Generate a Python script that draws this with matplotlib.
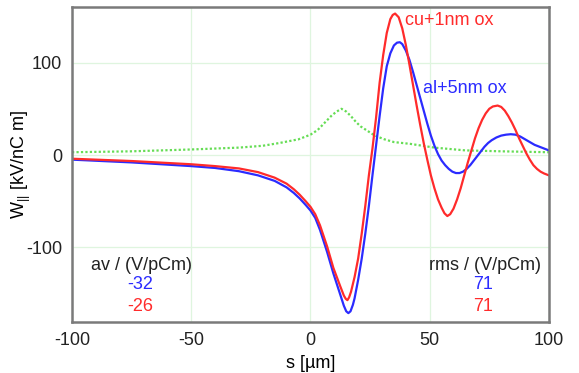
import numpy as np
import matplotlib.pyplot as plt

plt.rcParams['font.family'] = ['Liberation Sans', 'DejaVu Sans']
plt.rcParams['mathtext.fontset'] = 'custom'
plt.rcParams['mathtext.rm'] = 'Liberation Sans'
plt.rcParams['axes.unicode_minus'] = False

# wake of cu + 1nm oxide (red)
s_cu = [-100, -75, -50, -40, -30, -22, -15, -10, -7, -4.5, -2, 0, 2, 4, 7, 9.6, 12.5, 14, 14.8,
        15.5, 16.2, 17, 18.5, 20, 21.5, 23, 24.5, 26, 27.5, 29, 30.5, 32, 33.5, 34.5, 35.5, 37,
        38.5, 40, 41.5, 43, 44.5, 46, 47.5, 49, 50.5, 52, 53.5, 55, 56.2, 57.4, 58.6, 60, 61.5, 63,
        64.5, 66, 67.5, 69, 70.5, 72, 73.5, 75, 76.5, 78.5, 80, 81.5, 83, 84.5, 86, 87.5, 89, 90.5,
        92, 93.5, 95, 96.5, 98, 100]
w_cu = [-4, -6.5, -10, -12, -14.5, -18.5, -24.5, -31, -37, -43, -50, -56, -64, -76, -99, -122, -142,
        -152, -155.5, -157, -154, -148, -132, -112, -85, -55, -22, 7, 40, 78, 108, 132, 147, 151.5,
        153, 149, 137, 119, 98, 76, 54, 33, 13, -5, -22, -36, -48, -57, -63, -66, -64, -58, -48,
        -36, -22, -8, 5, 18, 29, 38, 45, 50, 52.5, 53.5, 52, 48, 42, 35, 27, 18, 10, 2,
        -5, -11, -15, -18, -20, -22]

# wake of al + 5nm oxide (blue)
s_al = [-100, -75, -50, -40, -30, -22, -15, -10, -7, -4.5, -2, 0, 2, 4, 7, 9.6, 12.5, 14, 15,
        15.9, 16.8, 17.8, 18.5, 20, 21.5, 23, 24.5, 26, 27.5, 29, 30.5, 32, 33.5, 35, 36.3, 37.5,
        38.5, 40, 41.5, 43, 44.5, 46, 47.5, 49, 50.5, 52, 53.5, 55, 56.5, 58, 59.5, 61, 62.5, 64,
        65.5, 67, 68.5, 70, 71.5, 73, 74.5, 76, 78, 80, 82, 84, 86, 88, 90, 92, 94, 96, 98, 100]
w_al = [-5, -8, -12, -14, -17.5, -22, -28, -35, -41, -47, -54, -60, -68, -81, -105, -128, -151,
        -163, -169, -171, -169, -162, -155, -135, -112, -85, -55, -22, 10, 42, 72, 96, 110, 118.5,
        121.5, 122, 120, 113, 103, 90, 76, 62, 48, 34, 21, 10, 1, -6, -11, -15, -18, -19.5, -19.5,
        -18, -15, -11, -6, -1, 4, 9, 13, 16, 19, 21, 22, 22.5, 22, 20, 17, 14, 11, 9, 7, 5]

# bunch profile (green, dotted)
s_bunch = [-100, -75, -50, -30, -20, -13, -5, 0, 3, 6, 9, 11, 13, 15, 17, 19, 21, 24, 27, 31, 35,
           42, 52, 65, 80, 100]
w_bunch = [3, 4, 6, 8, 10, 13, 17, 22, 27, 35, 43, 47, 50, 47, 42, 36, 31, 26, 21, 17, 14, 12, 8,
           5, 4, 3]

av_vals = ['-32', '-26']
rms_vals = ['71', '71']
colors = ['#2b2bff', '#ff2b2b']
fs = 13

fig = plt.figure(figsize=(5.79, 3.73), dpi=100)
ax = fig.add_axes([0.1244, 0.137, 0.8236, 0.844])

ax.plot(s_bunch, w_bunch, color='#66dd55', lw=1.6, ls=(0, (1, 1)))
ax.plot(s_al, w_al, color=colors[0], lw=1.6)
ax.plot(s_cu, w_cu, color=colors[1], lw=1.6)

ax.set_xlim(-100, 100)
ax.set_ylim(-180.5, 160)
ax.set_xticks([-100, -50, 0, 50, 100])
ax.set_yticks([-100, 0, 100])
ax.grid(True, color='#dff5df', lw=0.9)
ax.tick_params(length=0, labelsize=fs, pad=7, colors='#222222')
for sp in ax.spines.values():
    sp.set_color('#7a7a7a')
    sp.set_linewidth(1.8)

ax.set_xlabel('s [µm]', fontsize=fs)
ax.set_ylabel(r'W$_{||}$ [kV/nC m]', fontsize=fs)
ax.xaxis.set_label_coords(0.5, -0.105)
ax.yaxis.set_label_coords(-0.082, 0.5)

ax.text(39.8, 146, 'cu+1nm ox', color=colors[1], fontsize=fs, va='center')
ax.text(47.4, 72, 'al+5nm ox', color=colors[0], fontsize=fs, va='center')

ax.text(-70.9, -119, 'av / (V/pCm)', color='#222222', fontsize=fs, ha='center', va='center')
ax.text(73.4, -119, 'rms / (V/pCm)', color='#222222', fontsize=fs, ha='center', va='center')
for i in range(2):
    ax.text(-71.4, -140.5 - 23.5 * i, av_vals[i], color=colors[i], fontsize=fs, ha='center', va='center')
    ax.text(72.6, -140.5 - 23.5 * i, rms_vals[i], color=colors[i], fontsize=fs, ha='center', va='center')

fig.savefig('out.png', dpi=100)
